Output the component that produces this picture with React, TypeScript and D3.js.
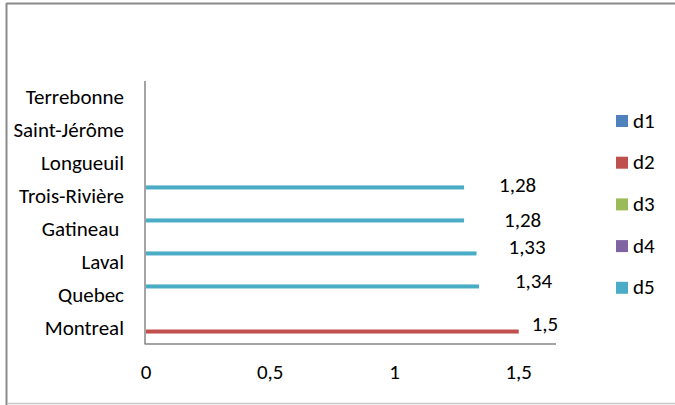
import React from "react";
import * as d3 from "d3";

// Cities, listed bottom to top
const cities = [
  "Montreal",
  "Quebec",
  "Laval",
  "Gatineau ",
  "Trois-Rivière",
  "Longueuil",
  "Saint-Jérôme",
  "Terrebonne",
];

const seriesNames = ["d1", "d2", "d3", "d4", "d5"];
const seriesColors = ["#4F81BD", "#C0504D", "#9BBB59", "#8064A2", "#4BACC6"];

// One array per series, aligned with `cities` (null = no bar)
const d1: (number | null)[] = [null, null, null, null, null, null, null, null];
const d2: (number | null)[] = [1.5, null, null, null, null, null, null, null];
const d3v: (number | null)[] = [null, null, null, null, null, null, null, null];
const d4: (number | null)[] = [null, null, null, null, null, null, null, null];
const d5: (number | null)[] = [null, 1.34, 1.33, 1.28, 1.28, null, null, null];

const xTicks = [0, 0.5, 1, 1.5];

// Manual nudges for the value labels, keyed by city
const labelNudge: Record<string, [number, number]> = {
  Montreal: [13, -7],
  Quebec: [36, -4],
  Laval: [32, -5],
  "Gatineau ": [40, 1],
  "Trois-Rivière": [35, -1],
};

const W = 675;
const H = 405;
const FONT = "Carlito, Calibri, 'Liberation Sans', Arial, sans-serif";
const FS = 21;

const fr = d3.formatLocale({
  decimal: ",",
  thousands: " ",
  grouping: [3],
  currency: ["", " €"],
});
const fmt = fr.format("~g");

export default function App() {
  const allSeries = [d1, d2, d3v, d4, d5];

  const plot = { left: 146, right: 556, top: 80, bottom: 344 };

  const x = d3.scaleLinear().domain([0, 1.65]).range([plot.left, plot.right]);
  const x0 = plot.left;

  const y = d3
    .scaleBand<string>()
    .domain(cities)
    .range([plot.bottom, plot.top])
    .paddingInner(0.39)
    .paddingOuter(0.195);

  const ySeries = d3
    .scaleBand<string>()
    .domain(seriesNames)
    .range([y.bandwidth(), 0]);

  const bars: { key: string; y: number; h: number; w: number; color: string; v: number; city: string }[] = [];
  allSeries.forEach((vals, si) => {
    vals.forEach((v, ci) => {
      if (v == null) return;
      const city = cities[ci];
      bars.push({
        key: `${si}-${ci}`,
        y: (y(city) ?? 0) + (ySeries(seriesNames[si]) ?? 0),
        h: ySeries.bandwidth(),
        w: x(v) - x0,
        color: seriesColors[si],
        v,
        city,
      });
    });
  });

  const legendTop = 121;
  const legendStep = 41.7;

  return (
    <svg
      width={W}
      height={H}
      style={{ position: "absolute", left: 0, top: 0, background: "#fff" }}
      fontFamily={FONT}
    >
      <rect x={0} y={0} width={W} height={H} fill="#fff" />
      {/* chart frame */}
      <line x1={6.5} y1={3.5} x2={W} y2={3.5} stroke="#8a8a8a" strokeWidth={2} />
      <line x1={6.5} y1={3} x2={6.5} y2={H} stroke="#8a8a8a" strokeWidth={2} />
      <line x1={7} y1={403.5} x2={W} y2={403.5} stroke="#c8c8c8" strokeWidth={1.5} />

      {/* bars */}
      {bars.map((b) => (
        <rect key={b.key} x={x0} y={b.y} width={b.w} height={b.h} fill={b.color} />
      ))}

      {/* axes */}
      <line x1={plot.left - 1} y1={plot.top + 1} x2={plot.left - 1} y2={plot.bottom} stroke="#868686" strokeWidth={1.5} />
      <line x1={plot.left - 1.5} y1={plot.bottom} x2={plot.right} y2={plot.bottom} stroke="#868686" strokeWidth={1.5} />

      {/* category labels */}
      {cities.map((c) => (
        <text
          key={c}
          x={124}
          y={(y(c) ?? 0) + y.bandwidth() / 2 + 2}
          textAnchor="end"
          dominantBaseline="middle"
          fontSize={FS}
          fill="#000"
          style={{ whiteSpace: "pre" }}
        >
          {c}
        </text>
      ))}

      {/* x tick labels */}
      {xTicks.map((t) => (
        <text key={t} x={x(t)} y={374} textAnchor="middle" dominantBaseline="middle" fontSize={FS} fill="#000">
          {fmt(t)}
        </text>
      ))}

      {/* value labels */}
      {bars.map((b) => {
        const [dx, dy] = labelNudge[b.city] ?? [10, 0];
        return (
          <text
            key={"l" + b.key}
            x={x(b.v) + dx}
            y={b.y + b.h / 2 + dy + 1}
            dominantBaseline="middle"
            fontSize={FS}
            fill="#000"
          >
            {fmt(b.v)}
          </text>
        );
      })}

      {/* legend */}
      {seriesNames.map((s, i) => (
        <g key={s} transform={`translate(616, ${legendTop + i * legendStep})`}>
          <rect x={0} y={-6} width={12} height={12} fill={seriesColors[i]} />
          <text x={17} y={1.5} dominantBaseline="middle" fontSize={FS} fill="#000">
            {s}
          </text>
        </g>
      ))}
    </svg>
  );
}
